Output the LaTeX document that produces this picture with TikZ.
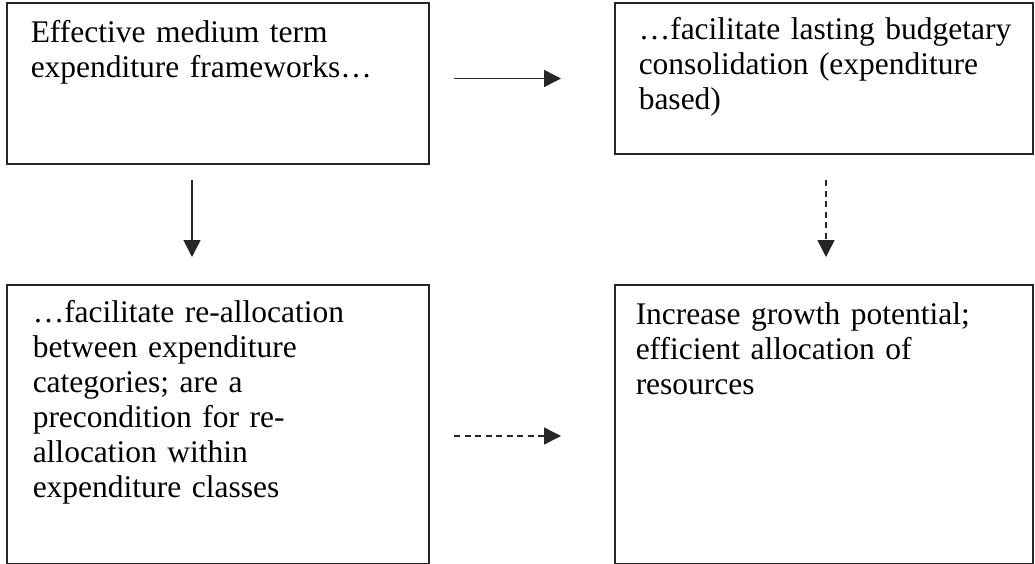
\documentclass[tikz,border=0pt]{standalone}
\usepackage{fontspec}
\newfontfamily\boxfont{Liberation Serif}
\usetikzlibrary{positioning, arrows.meta}

\begin{document}
\begin{tikzpicture}[-{Triangle[length=17pt,width=17pt]},line width=1.5pt,draw=black!85,
    box/.style={draw,rectangle,line width=2pt,minimum width=422pt,inner sep=0pt},
    txt/.style={anchor=base west,text width=392pt,align=left,inner sep=0pt,
      font=\boxfont\fontsize{31.5}{35}\selectfont},
    weak/.style={dash pattern=on 6pt off 4.5pt}]

\useasboundingbox (0,0) rectangle (1035pt,-563pt);

\node[box, minimum height=161pt, anchor=north west]   (mtef)  at (6pt,-2pt) {};
\node[box, minimum width=418pt, minimum height=151pt] (cons)    [right=184pt of mtef.north east, anchor=north west] {};
\node[box, minimum height=279pt]                      (realloc) [below=119pt of mtef.south west, anchor=north west] {};
\node[box, minimum width=418pt, minimum height=279pt] (growth)  [below=129pt of cons.south west, anchor=north west] {};

\node[txt] (mteftext)    at ([shift={(24pt,-40pt)}]mtef.north west)    {Effective medium term\\expenditure frameworks…};
\node[txt] (constext)    at ([shift={(24pt,-37pt)}]cons.north west)    {…facilitate lasting budgetary\\consolidation (expenditure\\based)};
\node[txt] (realloctext) at ([shift={(26pt,-38pt)}]realloc.north west) {…facilitate re-allocation\\between expenditure\\categories; are a\\precondition for re-\\allocation within\\expenditure classes};
\node[txt] (growthtext)  at ([shift={(21pt,-40pt)}]growth.north west)  {Increase growth potential;\\efficient allocation of\\resources};

\draw[shorten <=24pt, shorten >=53pt] (mtef.east |- cons.west) -- (cons.west);
\draw[shorten <=15pt, shorten >=27pt] ([xshift=-26pt]mtef.south) -- ([xshift=-26pt]mtef.south |- realloc.north);
\draw[weak, shorten <=25pt, shorten >=27pt] ([xshift=2pt]cons.south) -- ([xshift=2pt]cons.south |- growth.north);
\draw[weak, shorten <=24pt, shorten >=53pt] ([yshift=-11.5pt]realloc.east) -- ([yshift=-11.5pt]realloc.east -| growth.west);

\end{tikzpicture}
\end{document}
